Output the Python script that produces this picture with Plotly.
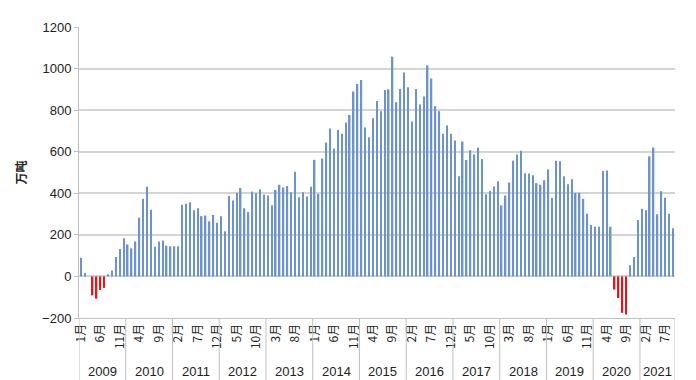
import plotly.graph_objects as go

years = [str(y) for y in range(2009, 2022)]
month_names = [f"{m}月" for m in range(1, 13)]

v2009 = [90, 16, 0, -91, -107, -65, -55, 11, 28, 94, 132, 184]
v2010 = [154, 135, 168, 283, 373, 431, 321, 143, 168, 173, 148, 145]
v2011 = [145, 145, 345, 350, 357, 318, 328, 290, 293, 265, 296, 258]
v2012 = [290, 217, 387, 365, 402, 425, 328, 310, 408, 400, 419, 394]
v2013 = [389, 342, 416, 441, 428, 435, 405, 504, 381, 405, 384, 431]
v2014 = [561, 397, 567, 644, 712, 615, 706, 686, 741, 777, 890, 926]
v2015 = [945, 717, 670, 761, 844, 795, 897, 900, 1057, 838, 902, 981]
v2016 = [910, 745, 902, 827, 866, 1015, 952, 819, 795, 686, 726, 686]
v2017 = [654, 482, 649, 560, 607, 587, 620, 565, 395, 411, 433, 458]
v2018 = [342, 389, 452, 557, 586, 605, 496, 495, 487, 449, 441, 463]
v2019 = [515, 378, 557, 554, 482, 444, 468, 402, 402, 373, 302, 247]
v2020 = [239, 239, 507, 510, 239, -63, -104, -175, -183, 54, 94, 271]
v2021 = [326, 318, 578, 620, 299, 410, 378, 302, 232]

series = [v2009, v2010, v2011, v2012, v2013, v2014, v2015, v2016,
          v2017, v2018, v2019, v2020, v2021]

values = []
month_labels = []
for yr, vals in zip(years, series):
    for k, v in enumerate(vals):
        values.append(v)
        month_labels.append(month_names[k])

x = list(range(len(values)))
colors = ["#e8141c" if v < 0 else "#6a93cf" for v in values]

fig = go.Figure(go.Bar(x=x, y=values, marker=dict(color=colors, line=dict(width=0)),
                       showlegend=False))

tickvals = x[::5]
ticktext = [month_labels[i] for i in tickvals]

shapes = []
annotations = []
start = 0
for yr, vals in zip(years, series):
    end = start + len(vals)
    shapes.append(dict(type="line", xref="x", yref="paper", x0=start - 0.5, x1=start - 0.5,
                       y0=0, y1=-0.22, line=dict(color="#bfbfbf", width=1)))
    annotations.append(dict(xref="x", yref="paper", x=(start + end - 1) / 2, y=-0.185,
                            text=yr, showarrow=False, yanchor="middle",
                            font=dict(size=13, color="#222", family="Liberation Sans")))
    start = end
shapes.append(dict(type="line", xref="x", yref="paper", x0=start - 0.5, x1=start - 0.5,
                   y0=0, y1=-0.22, line=dict(color="#bfbfbf", width=1)))

fig.update_layout(
    width=696, height=380,
    margin=dict(l=71, r=29, t=13, b=70),
    plot_bgcolor="white", paper_bgcolor="white",
    bargap=0.62,
    shapes=shapes, annotations=annotations,
    font=dict(family="Liberation Sans", size=12, color="#222"),
)
fig.update_xaxes(range=[-0.5, len(values) - 0.5], tickmode="array", tickvals=tickvals,
                 ticktext=ticktext, tickangle=-90, ticks="", showgrid=False,
                 showline=True, linecolor="#bfbfbf", zeroline=False,
                 tickfont=dict(size=12, family="Noto Sans CJK SC", color="#222"))
fig.update_yaxes(range=[-200, 1200], dtick=200, showgrid=True, gridcolor="#d4d4d4",
                 gridwidth=1.5, zeroline=False, showline=True, linecolor="#bfbfbf",
                 ticks="outside", ticklen=4, tickcolor="#bfbfbf",
                 tickfont=dict(size=13, family="Liberation Sans", color="#222"),
                 title=dict(text="<b>万吨</b>", standoff=12,
                            font=dict(size=12, family="Noto Sans CJK SC", color="#222")))

fig.write_html("out.html")
